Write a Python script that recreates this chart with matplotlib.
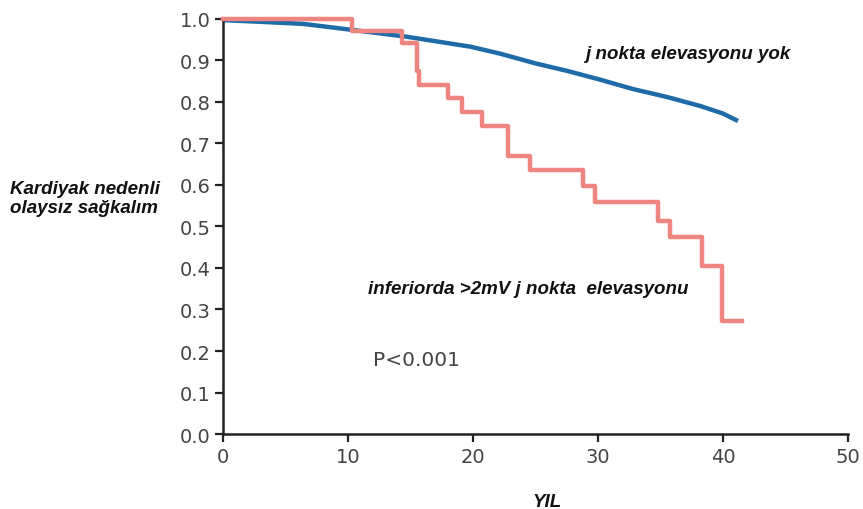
import matplotlib
matplotlib.use("Agg")
import matplotlib.pyplot as plt

# smooth curve: no j point elevation
blue_x = [0, 3, 6.4, 10.2, 14.7, 19.8, 22.2, 25.1, 27.5, 30, 32.8, 35.5, 38.2, 40, 41.2]
blue_y = [0.997, 0.993, 0.988, 0.974, 0.957, 0.933, 0.916, 0.892, 0.875, 0.855, 0.831, 0.812, 0.79, 0.772, 0.754]

# step curve: inferior >2mV j point elevation
step_x = [0, 10.3, 14.3, 15.5, 15.7, 18.0, 19.1, 20.7, 22.8, 24.6, 28.8, 29.8, 34.8, 35.8, 38.3, 39.9, 41.5]
step_y = [1.0, 0.971, 0.942, 0.875, 0.841, 0.81, 0.776, 0.742, 0.67, 0.636, 0.598, 0.559, 0.513, 0.475, 0.405, 0.272, 0.272]

xticks = [0, 10, 20, 30, 40, 50]
yticks = [0.0, 0.1, 0.2, 0.3, 0.4, 0.5, 0.6, 0.7, 0.8, 0.9, 1.0]

fig = plt.figure(figsize=(8.63, 5.10), dpi=100)
ax = fig.add_axes([0.2584, 0.147, 0.7242, 0.814])

ax.plot(blue_x, blue_y, color="#1f6aa8", lw=3.2, clip_on=False, zorder=2,
        solid_joinstyle="round", solid_capstyle="butt")
ax.step(step_x, step_y, where="post", color="#ef8580", lw=3.2, clip_on=False, zorder=3)

ax.set_xlim(0, 50)
ax.set_ylim(0, 1.0)
ax.set_xticks(xticks)
ax.set_yticks(yticks)
ax.set_yticklabels(["%.1f" % v for v in yticks])
for s in ["top", "right"]:
    ax.spines[s].set_visible(False)
for s in ["left", "bottom"]:
    ax.spines[s].set_linewidth(1.8)
    ax.spines[s].set_color("#222222")
ax.tick_params(direction="out", length=6, width=1.6, colors="#222222",
               labelsize=14, labelcolor="#444444", pad=3)

bi = dict(fontweight="bold", style="italic", family="Liberation Sans", color="#111111")
ax.text(29, 0.916, "j nokta elevasyonu yok", fontsize=13.5, va="center", **bi)
ax.text(11.6, 0.35, "inferiorda >2mV j nokta  elevasyonu", fontsize=13.5, va="center", **bi)
ax.text(12, 0.18, "P<0.001", fontsize=14.5, color="#444444", va="center")

fig.text(0.012, 0.61, "Kardiyak nedenli\nolaysız sağkalım", fontsize=13.5,
         va="center", ha="left", linespacing=1.15, **bi)
fig.text(0.634, 0.005, "YIL", fontsize=13.5, ha="center", **bi)

fig.savefig("out.png", dpi=100)
